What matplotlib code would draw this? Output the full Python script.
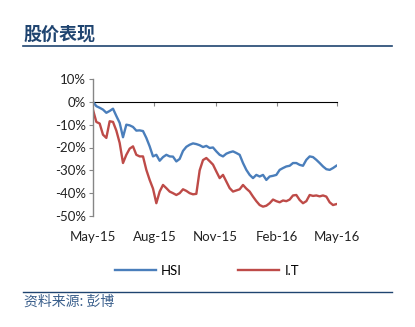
import matplotlib
matplotlib.use("Agg")
import matplotlib.pyplot as plt
import matplotlib.dates as mdates
from matplotlib.ticker import FuncFormatter
import pandas as pd

# ---- data (% change since May-15) ----
start_date = "2015-05-01"
step = "5D"
hsi = [0.0, -1.9, -2.6, -3.4, -4.8, -4.0, -3.0, -6.2, -9.2, -15.5,
       -10.0, -10.3, -11.0, -12.6, -12.5, -12.8, -15.8, -19.5, -23.9, -23.2,
       -25.8, -24.2, -23.2, -23.9, -24.0, -26.1, -25.0, -21.5, -19.7, -18.8,
       -18.2, -18.5, -19.0, -19.8, -19.3, -20.2, -20.0, -21.7, -23.2, -23.9,
       -22.7, -22.1, -21.7, -22.4, -23.2, -26.8, -29.8, -32.0, -33.4, -32.0,
       -32.7, -32.0, -34.2, -32.7, -32.4, -32.0, -29.8, -29.0, -28.3, -28.0,
       -26.8, -26.8, -27.6, -28.0, -25.4, -23.9, -24.2, -25.4, -26.8, -28.3,
       -29.5, -29.8, -29.0, -28.0]
it = [-3.5, -8.8, -9.5, -14.4, -15.8, -8.5, -8.8, -12.6, -18.0, -26.8,
      -23.2, -20.5, -19.5, -23.2, -23.9, -23.9, -29.8, -34.2, -38.0, -44.4,
      -39.3, -36.4, -37.8, -39.3, -40.0, -40.8, -40.0, -38.3, -39.0, -40.0,
      -40.5, -40.3, -30.0, -25.5, -24.6, -26.0, -27.5, -30.5, -33.4, -32.0,
      -34.9, -37.8, -39.3, -38.8, -38.3, -36.4, -38.0, -39.3, -41.5, -43.5,
      -45.2, -45.9, -45.5, -44.4, -42.8, -43.5, -44.0, -43.2, -43.5, -42.8,
      -41.0, -40.8, -43.0, -44.4, -43.5, -40.8, -41.2, -41.0, -41.4, -41.0,
      -41.5, -44.0, -45.2, -44.8]
series_names = ["HSI", "I.T"]
x_ticks = ["2015-05-01", "2015-08-01", "2015-11-01", "2016-02-01", "2016-05-01"]
y_ticks = [10, 0, -10, -20, -30, -40, -50]
title = "股价表现"
source = "资料来源: 彭博"

dates = pd.date_range(start_date, periods=len(hsi), freq=step)

navy = "#1F4470"
grey = "#868686"
fam = ["Lato", "Noto Sans CJK SC", "DejaVu Sans"]
plt.rcParams["font.family"] = fam

fig = plt.figure(figsize=(4.15, 3.27), dpi=100)
fig.patch.set_facecolor("white")

# header & footer
fig.text(23 / 415, 1 - 34 / 327, title, fontsize=13, fontweight="bold", color=navy,
         family=["Noto Sans CJK SC"], va="center", ha="left")
fig.add_artist(plt.Line2D([23 / 415, 392 / 415], [1 - 46 / 327, 1 - 46 / 327],
                          color=navy, lw=1.2))
fig.add_artist(plt.Line2D([23 / 415, 392 / 415], [1 - 292 / 327, 1 - 292 / 327],
                          color=navy, lw=1.0))
fig.text(24 / 415, 1 - 302 / 327, source, fontsize=10, style="italic", color="#3A5F8C",
         family=["Noto Sans CJK SC"], va="center", ha="left")

ax = fig.add_axes([93 / 415, 1 - 216 / 327, (337 - 93) / 415, (216 - 79) / 327])
ax.plot(dates, hsi, color="#4A7EBB", lw=1.7, label=series_names[0])
ax.plot(dates, it, color="#BE4B48", lw=1.7, label=series_names[1])

ax.set_ylim(-50, 10)
ax.set_xlim(pd.Timestamp(x_ticks[0]), pd.Timestamp(x_ticks[-1]))
ax.set_yticks(y_ticks)
ax.yaxis.set_major_formatter(FuncFormatter(lambda v, p: f"{int(round(v))}%"))
ax.tick_params(axis="y", direction="out", length=3, color=grey, labelsize=9.5,
               labelcolor="#222222", pad=2)

tick_dates = [pd.Timestamp(d) for d in x_ticks]
ax.set_xticks(tick_dates)
ax.xaxis.set_major_formatter(mdates.DateFormatter("%b-%y"))
ax.tick_params(axis="x", length=0, labelsize=9.5, labelcolor="#222222", pad=11)

for s in ["top", "right", "bottom"]:
    ax.spines[s].set_visible(False)
ax.spines["left"].set_color(grey)
ax.spines["left"].set_linewidth(1.0)

# zero line with upward tick marks
sec = ax.secondary_xaxis((0 - (-50)) / 60.0)
sec.set_xticks(tick_dates)
sec.tick_params(axis="x", direction="in", length=3, color=grey, labelbottom=False,
                labeltop=False)
sec.spines["bottom"].set_color(grey)
sec.spines["bottom"].set_linewidth(1.0)

ax.legend(loc="upper center", bbox_to_anchor=(0.467, -0.27), ncol=2, frameon=False,
          fontsize=9.5, handlelength=3.1, columnspacing=4.3, handletextpad=0.4)

fig.savefig("out.png", dpi=100, facecolor="white")
